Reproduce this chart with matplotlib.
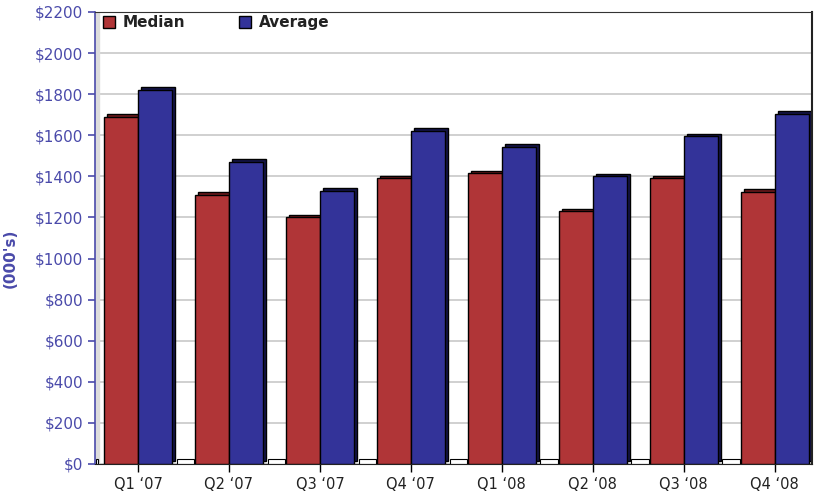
import matplotlib.pyplot as plt
import numpy as np

#=== DATA ===#

quarters = ["Q1 \u201807", "Q2 \u201807", "Q3 \u201807", "Q4 \u201807",
            "Q1 \u201808", "Q2 \u201808", "Q3 \u201808", "Q4 \u201808"]
median = [1690, 1310, 1200, 1390, 1415, 1230, 1390, 1325]
average = [1820, 1470, 1330, 1620, 1545, 1400, 1595, 1705]
yticks = list(range(0, 2201, 200))

#=== STYLE ===#

red = "#B03537"
red_dark = "#6e1a1c"
blue = "#333399"
blue_dark = "#15154a"
axis_blue = "#4a4aaa"

w = 0.374      # bar width in category units
dx = 0.036     # 3d depth, x
dy = 13        # 3d depth, y (data units)
floor_h = 26   # height of the white floor pieces between groups

fig = plt.figure(figsize=(8.17, 4.97), dpi=100)
ax = fig.add_axes([95 / 817, 33 / 497, 717 / 817, 452 / 497])

x = np.arange(len(quarters))

# depth (drawn first, behind)
ax.bar(x - w / 2 + dx, median, width=w, bottom=dy, color=red_dark,
       edgecolor="black", linewidth=1, zorder=2)
ax.bar(x + w / 2 + dx, average, width=w, bottom=dy, color=blue_dark,
       edgecolor="black", linewidth=1, zorder=2)
# floor pieces in the gaps
ax.bar(x[:-1] + w + dx + 0.11, [floor_h] * (len(x) - 1), width=0.19,
       color="white", edgecolor="black", linewidth=0.8, zorder=2)
ax.bar([-0.45], [floor_h], width=0.03, color="white", edgecolor="black",
       linewidth=0.8, zorder=2)

# front faces
ax.bar(x - w / 2, median, width=w, color=red, edgecolor="black",
       linewidth=1, zorder=3, label="Median")
ax.bar(x + w / 2, average, width=w, color=blue, edgecolor="black",
       linewidth=1, zorder=3, label="Average")

ax.set_xlim(-0.4725, 7.41)
ax.set_ylim(0, 2200)
ax.set_yticks(yticks)
ax.set_yticklabels([f"${v}" for v in yticks])
ax.set_xticks(x)
ax.set_xticklabels(quarters)

ax.yaxis.grid(True, color="#c8c8c8", linewidth=1.2, zorder=0)
ax.set_axisbelow(True)

ax.tick_params(axis="y", colors=axis_blue, labelsize=11, length=5,
               width=1.2, direction="out")
ax.tick_params(axis="x", colors="black", labelsize=10.5, length=6,
               width=1, direction="out")
for lab in ax.get_xticklabels():
    lab.set_color("#222222")

ax.spines["left"].set_color(axis_blue)
ax.spines["left"].set_linewidth(1.2)
ax.spines["top"].set_color("#333333")
ax.spines["right"].set_color("#222222")
ax.spines["right"].set_linewidth(1.5)
ax.spines["bottom"].set_color("#222222")

# left wall strip
ax.axvspan(-0.4725, -0.43, color="#dcdcdc", zorder=1)

leg = ax.legend(loc="upper left", ncol=2, frameon=False, fontsize=11,
                prop={"weight": "bold", "size": 11}, handlelength=0.8,
                handleheight=0.8, columnspacing=3.5, handletextpad=0.5,
                borderaxespad=0.1, bbox_to_anchor=(0.0, 1.01))
for t in leg.get_texts():
    t.set_color("#222222")

fig.text(0.012, 0.48, "(000's)", rotation=90, color=axis_blue,
         fontsize=11, fontweight="bold", va="center", ha="center")

fig.savefig("out.png", dpi=100)
